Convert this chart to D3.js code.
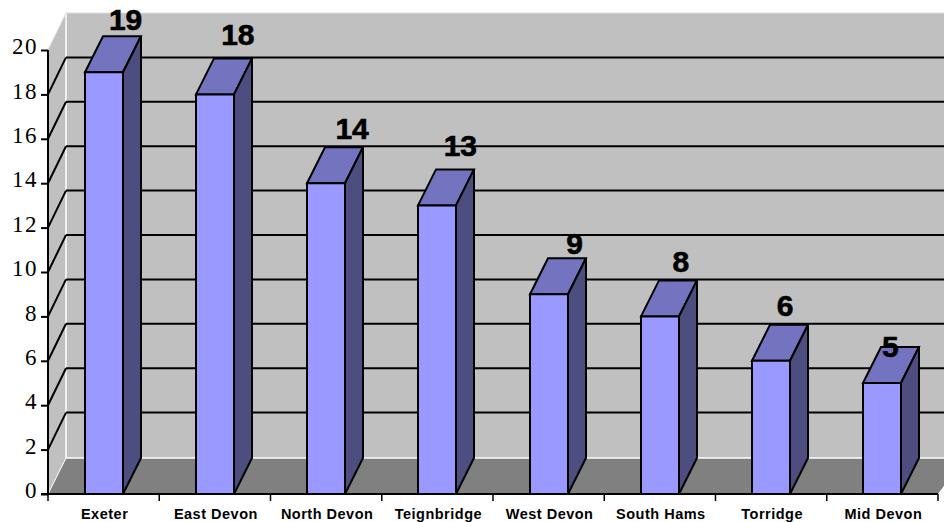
<!DOCTYPE html>
<html><head><meta charset="utf-8">
<script src="https://cdn.jsdelivr.net/npm/d3@7"></script>
<style>html,body{margin:0;background:#fff}svg{display:block}</style></head>
<body><div id="c"></div>
<script>
const categories=["Exeter","East Devon","North Devon","Teignbridge","West Devon","South Hams","Torridge","Mid Devon"];
const values=[19,18,14,13,9,8,6,5];
const yTicks=[0,2,4,6,8,10,12,14,16,18,20];
const labelNudgeX=[-1,0,3,0,3,-2,-9,-15];
const labelNudgeY=[0,-7,-2,-7,2,-2,-3,16];
const W=944,H=522,dx=18,dy=-36,wallDy=-37,barW=38;
const x=d3.scaleBand().domain(categories).range([48,938]);
const y=d3.scaleLinear().domain([0,20]).range([494,50]);
const svg=d3.select("#c").append("svg").attr("width",W).attr("height",H);
const poly=(pts,fill,stroke,sw)=>svg.append("polygon").attr("points",pts.map(p=>p.join(",")).join(" ")).attr("fill",fill).attr("stroke",stroke||"none").attr("stroke-width",sw||0).attr("stroke-linejoin","miter");
const x0=x.range()[0],x1=x.range()[1],y0=y(0),yT=y(20);
poly([[x0+dx,yT+wallDy],[W+20,yT+wallDy],[W+20,y0+dy],[x0+dx,y0+dy]],"#c0c0c0");
poly([[x0,y0],[x0+dx,y0+dy],[x0+dx,yT+wallDy],[x0,yT]],"#c0c0c0");
poly([[x0,y0],[x0+dx,y0+dy],[W+20,y0+dy],[x1,y0]],"#808080");
const line=(a,b,c,w)=>svg.append("line").attr("x1",a[0]).attr("y1",a[1]).attr("x2",b[0]).attr("y2",b[1]).attr("stroke",c).attr("stroke-width",w);
line([x0+dx,y0+dy],[x0+dx,yT+wallDy],"#fff",1.5);
line([x0+dx,y0+dy],[W,y0+dy],"#fff",1.5);
line([x0+dx,y0+dy],[x0,y0],"#fff",1);
line([x0,yT],[x0+dx,yT+wallDy],"#ddd",1);
line([x0+dx,yT+wallDy],[W,yT+wallDy],"#ddd",1);
yTicks.filter(t=>t>0&&t<20).forEach(t=>{
  line([x0,y(t)],[x0+dx,y(t)+wallDy],"#000",2);
  line([x0+dx,y(t)+wallDy],[W,y(t)+wallDy],"#000",2);
});
categories.forEach((c,i)=>{
  const bx=Math.round(x(c)+(x.bandwidth()-barW)/2),by=y(values[i]);
  poly([[bx,by],[bx+dx,by+dy],[bx+barW+dx,by+dy],[bx+barW,by]],"#7373bf","#000",2);
  poly([[bx+barW,by],[bx+barW+dx,by+dy],[bx+barW+dx,y0+dy],[bx+barW,y0]],"#4d4d80","#000",2);
  poly([[bx,by],[bx+barW,by],[bx+barW,y0],[bx,y0]],"#9999ff","#000",2);
});
const axY=svg.append("g").attr("transform",`translate(${x0},0)`).call(d3.axisLeft(y).tickValues(yTicks).tickSize(7).tickPadding(3));
axY.selectAll("path,line").attr("stroke","#000").attr("stroke-width",2);
axY.select("path").attr("d",`M0,${yT}V${y0}`);
axY.selectAll("text").style("font-family","'Liberation Serif',serif").style("font-size","23px").attr("letter-spacing",1.5).attr("fill","#000").attr("dy","0.16em").attr("x",-10);
svg.append("line").attr("x1",x0-7).attr("x2",x1).attr("y1",y0).attr("y2",y0).attr("stroke","#000").attr("stroke-width",2);
d3.range(categories.length+1).map(i=>x0+i*x.step()).forEach(t=>line([t,y0],[t,y0+7],"#000",1.5));
svg.append("g").selectAll("text").data(categories).join("text")
  .attr("x",c=>x(c)+x.bandwidth()/2+1).attr("y",519).attr("text-anchor","middle")
  .attr("font-family","'Liberation Sans'").attr("font-weight","bold").attr("font-size",14.5).attr("letter-spacing",0.5).attr("fill","#000").text(c=>c);
svg.append("g").selectAll("text").data(values).join("text")
  .attr("x",(v,i)=>x(categories[i])+x.bandwidth()/2+dx+5+labelNudgeX[i])
  .attr("y",(v,i)=>y(v)+dy-6+labelNudgeY[i])
  .attr("text-anchor","middle").attr("font-family","'Liberation Sans'").attr("font-weight","bold").attr("font-size",30).attr("stroke","#000").attr("stroke-width",0.6).attr("fill","#000").text(v=>v);
</script></body></html>
